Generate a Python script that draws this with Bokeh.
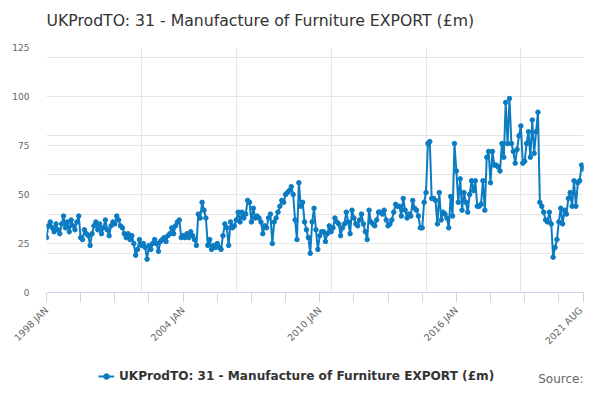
import math
from bokeh.plotting import figure
from bokeh.layouts import column
from bokeh.models import (Range1d, LinearAxis, FixedTicker, Legend, LegendItem,
                          Label, ColumnDataSource, Grid)
from bokeh.embed import file_html
from bokeh.resources import INLINE

# Monthly values, Jan 1998 .. Aug 2021 (GBP million)
v1998 = [28, 34, 36, 33, 31, 35, 32, 30, 35, 39, 33, 36]
v1999 = [31, 37, 34, 32, 36, 39, 28, 27, 32, 30, 29, 24]
v2000 = [30, 34, 36, 32, 35, 30, 33, 37, 32, 29, 34, 36]
v2001 = [35, 39, 37, 34, 33, 30, 28, 30, 27, 29, 25, 19]
v2002 = [22, 27, 24, 25, 23, 17, 24, 22, 25, 27, 25, 21]
v2003 = [26, 27, 28, 26, 29, 30, 33, 30, 34, 36, 37, 28]
v2004 = [29, 28, 30, 28, 31, 29, 27, 24, 40, 38, 46, 42]
v2005 = [38, 24, 27, 22, 24, 23, 25, 23, 22, 29, 35, 33]
v2006 = [24, 36, 33, 34, 37, 41, 36, 41, 38, 40, 47, 46]
v2007 = [36, 43, 38, 39, 38, 36, 30, 34, 33, 38, 40, 25]
v2008 = [36, 38, 41, 44, 47, 46, 50, 51, 52, 54, 50, 37]
v2009 = [27, 56, 44, 46, 36, 32, 28, 20, 36, 43, 32, 22]
v2010 = [29, 31, 31, 26, 30, 34, 31, 33, 38, 36, 35, 29]
v2011 = [33, 35, 41, 36, 30, 42, 38, 35, 34, 37, 40, 35]
v2012 = [31, 27, 42, 36, 35, 34, 37, 41, 41, 40, 42, 37]
v2013 = [34, 35, 37, 41, 45, 44, 44, 39, 48, 42, 38, 40]
v2014 = [39, 47, 43, 42, 39, 33, 33, 46, 51, 76, 77, 48]
v2015 = [48, 47, 35, 51, 37, 41, 40, 38, 33, 49, 39, 76]
v2016 = [62, 46, 58, 42, 51, 46, 41, 50, 57, 52, 57, 44]
v2017 = [44, 45, 57, 42, 69, 72, 56, 72, 65, 65, 64, 62]
v2018 = [76, 69, 97, 76, 99, 76, 72, 66, 73, 80, 85, 66]
v2019 = [67, 76, 82, 69, 88, 71, 82, 92, 46, 44, 41, 37]
v2020 = [36, 41, 35, 18, 23, 27, 36, 43, 35, 42, 40, 48]
v2021 = [51, 44, 57, 44, 56, 57, 65, 63]

values = (v1998 + v1999 + v2000 + v2001 + v2002 + v2003 + v2004 + v2005 +
          v2006 + v2007 + v2008 + v2009 + v2010 + v2011 + v2012 + v2013 +
          v2014 + v2015 + v2016 + v2017 + v2018 + v2019 + v2020 + v2021)
month_index = list(range(len(values)))

x_tick_positions = [0, 72, 144, 216, 283]
x_tick_labels = ["1998 JAN", "2004 JAN", "2010 JAN", "2016 JAN", "2021 AUG"]
x_minor_positions = [18, 36, 54, 90, 108, 126, 162, 180, 198, 234, 252, 270]
y_ticks = [0, 25, 50, 75, 100, 125]

series_name = "UKProdTO: 31 - Manufacture of Furniture EXPORT (£m)"
source_text = "Source:"
BLUE = "#0b7bc2"
FONT = "DejaVu Sans"
W = 584

src = ColumnDataSource(data=dict(x=month_index, y=values))


def bare_figure(height):
    # frames of plots in a column are aligned with the main chart's frame
    f = figure(width=W, height=height, output_backend="svg", toolbar_location=None,
               x_range=Range1d(-1000, -999), y_range=Range1d(-1000, -999),
               x_axis_location=None, y_axis_location=None, title=None,
               min_border=0, min_border_left=0, min_border_right=0,
               min_border_top=0, min_border_bottom=0)
    f.outline_line_color = None
    f.background_fill_color = "white"
    f.border_fill_color = "white"
    f.xgrid.visible = False
    f.ygrid.visible = False
    return f


# ---- title strip ----
p_title = bare_figure(40)
p_title.add_layout(Label(x=0, y=20.5, x_units="screen", y_units="screen",
                         text=series_name, text_align="left",
                         text_baseline="alphabetic", text_font=FONT,
                         text_font_size="15.7px", text_color="#333333"))

# ---- main chart ----
p = figure(width=W, height=318, output_backend="svg", toolbar_location=None,
           x_range=Range1d(0, x_tick_positions[-1]), y_range=Range1d(0, 125),
           x_axis_location=None, y_axis_location=None, title=None,
           min_border_left=46, min_border_right=1, min_border_top=7,
           min_border_bottom=66)
p.outline_line_color = None

yaxis = LinearAxis(ticker=FixedTicker(ticks=y_ticks))
yaxis.axis_line_color = None
yaxis.major_tick_line_color = None
yaxis.minor_tick_line_color = None
yaxis.major_tick_in = 0
yaxis.major_tick_out = 0
yaxis.minor_tick_in = 0
yaxis.minor_tick_out = 0
yaxis.major_label_text_font = FONT
yaxis.major_label_text_font_size = "9px"
yaxis.major_label_text_color = "#666666"
yaxis.major_label_standoff = 17
p.add_layout(yaxis, "left")

xaxis = LinearAxis(ticker=FixedTicker(ticks=x_tick_positions, minor_ticks=x_minor_positions))
xaxis.major_label_overrides = {pos: lab for pos, lab in zip(x_tick_positions, x_tick_labels)}
xaxis.axis_line_color = "#ccd6eb"
xaxis.major_tick_line_color = "#ccd6eb"
xaxis.minor_tick_line_color = "#ccd6eb"
xaxis.major_tick_in = 0
xaxis.major_tick_out = 10
xaxis.minor_tick_in = 0
xaxis.minor_tick_out = 10
xaxis.major_label_orientation = math.pi / 4
xaxis.major_label_text_font = FONT
xaxis.major_label_text_font_size = "9.5px"
xaxis.major_label_text_color = "#666666"
xaxis.major_label_standoff = 6
p.add_layout(xaxis, "below")

p.add_layout(Grid(dimension=1, ticker=yaxis.ticker, grid_line_color="#e6e6e6"))

p.line("x", "y", source=src, line_color=BLUE, line_width=2)
p.scatter("x", "y", source=src, marker="circle", size=4.5,
          fill_color=BLUE, line_color=BLUE)

# ---- legend + source strip (key glyphs share the series data, kept out of view) ----
p_leg = bare_figure(26)
key_line = p_leg.line("x", "y", source=src, line_color=BLUE, line_width=2)
key_dot = p_leg.scatter("x", "y", source=src, marker="circle", size=4.5,
                        fill_color=BLUE, line_color=BLUE)
legend = Legend(items=[LegendItem(label=series_name, renderers=[key_line, key_dot])],
                orientation="horizontal", location=(52, 1),
                label_text_font=FONT, label_text_font_style="bold",
                label_text_font_size="12.1px", label_text_color="#333333",
                border_line_color=None, background_fill_alpha=0,
                glyph_width=16, glyph_height=14, label_height=14,
                label_standoff=5, margin=0, padding=2)
p_leg.add_layout(legend, "center")
p_leg.add_layout(Label(x=537, y=6, x_units="screen", y_units="screen",
                       text=source_text, text_align="right",
                       text_baseline="alphabetic", text_font=FONT,
                       text_font_size="12px", text_color="#666666"))

layout = column(p_title, p, p_leg, spacing=0)

open("out.html", "w").write(file_html(layout, INLINE))
